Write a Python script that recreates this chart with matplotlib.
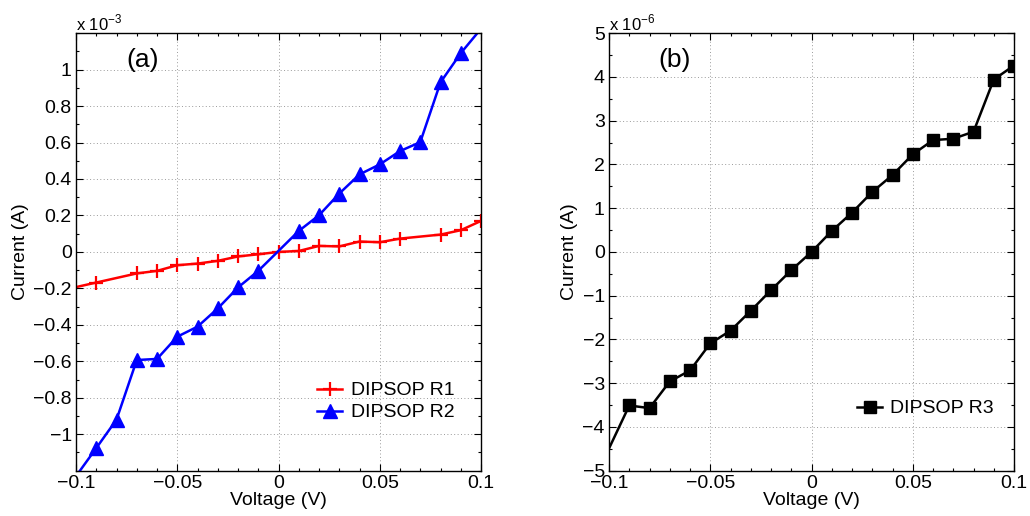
import matplotlib
matplotlib.use("Agg")
import matplotlib.pyplot as plt
import numpy as np
from matplotlib.ticker import MultipleLocator, FuncFormatter

plt.rcParams['font.family'] = ['Liberation Sans', 'DejaVu Sans']

# ---- data (Current in A) ----
v_r1 = [-0.1, -0.09, -0.07, -0.06, -0.05, -0.04, -0.03, -0.02, -0.01, 0.0,
        0.01, 0.02, 0.03, 0.04, 0.05, 0.06, 0.08, 0.09, 0.1]
i_r1_mA = [-0.193, -0.168, -0.118, -0.104, -0.073, -0.064, -0.049, -0.025, -0.013, 0.0,
           0.005, 0.033, 0.030, 0.057, 0.053, 0.073, 0.095, 0.119, 0.170]

v_r2 = [-0.1, -0.09, -0.08, -0.07, -0.06, -0.05, -0.04, -0.03, -0.02, -0.01,
        0.01, 0.02, 0.03, 0.04, 0.05, 0.06, 0.07, 0.08, 0.09, 0.1]
i_r2_mA = [-1.23, -1.076, -0.92, -0.593, -0.587, -0.465, -0.41, -0.31, -0.195, -0.104,
           0.115, 0.201, 0.32, 0.425, 0.48, 0.553, 0.602, 0.93, 1.09, 1.224]

v_r3 = [-0.1, -0.09, -0.08, -0.07, -0.06, -0.05, -0.04, -0.03, -0.02, -0.01, 0.0,
        0.01, 0.02, 0.03, 0.04, 0.05, 0.06, 0.07, 0.08, 0.09, 0.1]
i_r3_uA = [-4.49, -3.51, -3.57, -2.96, -2.71, -2.09, -1.80, -1.345, -0.874, -0.418, 0.0,
           0.479, 0.898, 1.37, 1.757, 2.23, 2.555, 2.587, 2.747, 3.94, 4.26]

labels = ["DIPSOP R1", "DIPSOP R2", "DIPSOP R3"]

FS = 14

fig = plt.figure(figsize=(10.30, 5.16), dpi=100)
axL = fig.add_axes([0.0738, 0.0878, 0.3932, 0.848])
axR = fig.add_axes([0.5913, 0.0878, 0.3932, 0.848])

def fmt(scale):
    def f(val, pos):
        s = "%g" % round(val / scale, 6)
        if s == "-0":
            s = "0"
        return s.replace("-", "\u2212")
    return f

def style(ax, scale, ymaj, ymin):
    ax.set_xlim(-0.1, 0.1)
    ax.xaxis.set_major_locator(MultipleLocator(0.05))
    ax.xaxis.set_minor_locator(MultipleLocator(0.01))
    ax.xaxis.set_major_formatter(FuncFormatter(fmt(1)))
    ax.yaxis.set_major_locator(MultipleLocator(ymaj))
    ax.yaxis.set_minor_locator(MultipleLocator(ymin))
    ax.yaxis.set_major_formatter(FuncFormatter(fmt(scale)))
    ax.tick_params(which='both', direction='in', top=True, right=True,
                   labelsize=FS, width=0.8, colors='black')
    ax.tick_params(which='major', length=5, pad=3)
    ax.tick_params(which='minor', length=2.5)
    ax.grid(True, which='major', linestyle=(0, (1, 2.5)), color='#9a9a9a', linewidth=0.7)
    for s in ax.spines.values():
        s.set_linewidth(1.0)
    ax.set_xlabel("Voltage (V)", fontsize=FS, labelpad=0)
    ax.set_ylabel("Current (A)", fontsize=FS, labelpad=3)

# ---- left panel ----
i_r1 = np.array(i_r1_mA) * 1e-3
i_r2 = np.array(i_r2_mA) * 1e-3
axL.plot(v_r1, i_r1, color='#ff0000', lw=1.8, marker='+', ms=10, mew=1.6,
         markevery=list(range(1, len(v_r1))), label=labels[0])
axL.plot(v_r2, i_r2, color='#0000ff', lw=1.8, marker='^', ms=10,
         markevery=list(range(1, len(v_r2) - 1)), label=labels[1])
style(axL, 1e-3, 0.2e-3, 0.1e-3)
axL.set_yticks(np.arange(-5, 6) * 0.2e-3)
axL.set_ylim(-1.2e-3, 1.2e-3)
axL.text(0.0, 1.0, r"x 10$^{\mathregular{-3}}$", transform=axL.transAxes,
         fontsize=12, ha='left', va='bottom')
axL.text(0.165, 0.938, "(a)", transform=axL.transAxes, fontsize=19,
         ha='center', va='center')
axL.legend(loc='upper left', bbox_to_anchor=(0.595, 0.203), frameon=False,
           fontsize=FS, handlelength=1.3, borderaxespad=0, borderpad=0,
           labelspacing=0.22, handletextpad=0.45)

# ---- right panel ----
i_r3 = np.array(i_r3_uA) * 1e-6
axR.plot(v_r3, i_r3, color='black', lw=1.8, marker='s', ms=8,
         markevery=list(range(1, len(v_r3))), label=labels[2])
style(axR, 1e-6, 1e-6, 0.5e-6)
axR.set_ylim(-5e-6, 5e-6)
axR.text(0.0, 1.0, r"x 10$^{\mathregular{-6}}$", transform=axR.transAxes,
         fontsize=12, ha='left', va='bottom')
axR.text(0.163, 0.938, "(b)", transform=axR.transAxes, fontsize=19,
         ha='center', va='center')
axR.legend(loc='upper left', bbox_to_anchor=(0.612, 0.162), frameon=False,
           fontsize=FS, handlelength=1.3, borderaxespad=0, borderpad=0,
           handletextpad=0.4)

fig.savefig("out.png", dpi=100)
